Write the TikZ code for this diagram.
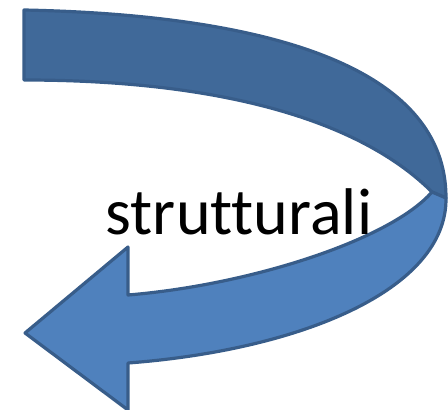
\documentclass[tikz,border=0pt]{standalone}
\usepackage{fontspec}
\setmainfont[Ligatures={NoCommon,NoRequired}]{Carlito}
\definecolor{bandback}{RGB}{64,105,153}
\definecolor{bandfront}{RGB}{79,129,189}
\definecolor{bandline}{RGB}{56,93,138}
\tikzset{band/.style={draw=bandline,line width=3.2pt,line join=round}}
\begin{document}
\begin{tikzpicture}[x=1pt,y=-1pt]
\useasboundingbox (0,0) rectangle (448,410);
% back band (top)
\path[band,fill=bandback] (24,10) .. controls (220,14) and (446,50) .. (446,198)
  -- (432,192) .. controls (360,120) and (220,80) .. (24,80) -- cycle;
% front band (bottom) with arrow head
\path[band,fill=bandfront] (432,192) -- (446,198)
  .. controls (447,290) and (300,350) .. (128,363)
  -- (128,410) -- (25,333) -- (128,247) -- (128,295)
  .. controls (250,285) and (390,240) .. (432,192) -- cycle;
\node[anchor=base,inner sep=0pt,font=\fontsize{66}{70}\selectfont] (label) at (239,234) {strutturali};
\end{tikzpicture}
\end{document}
